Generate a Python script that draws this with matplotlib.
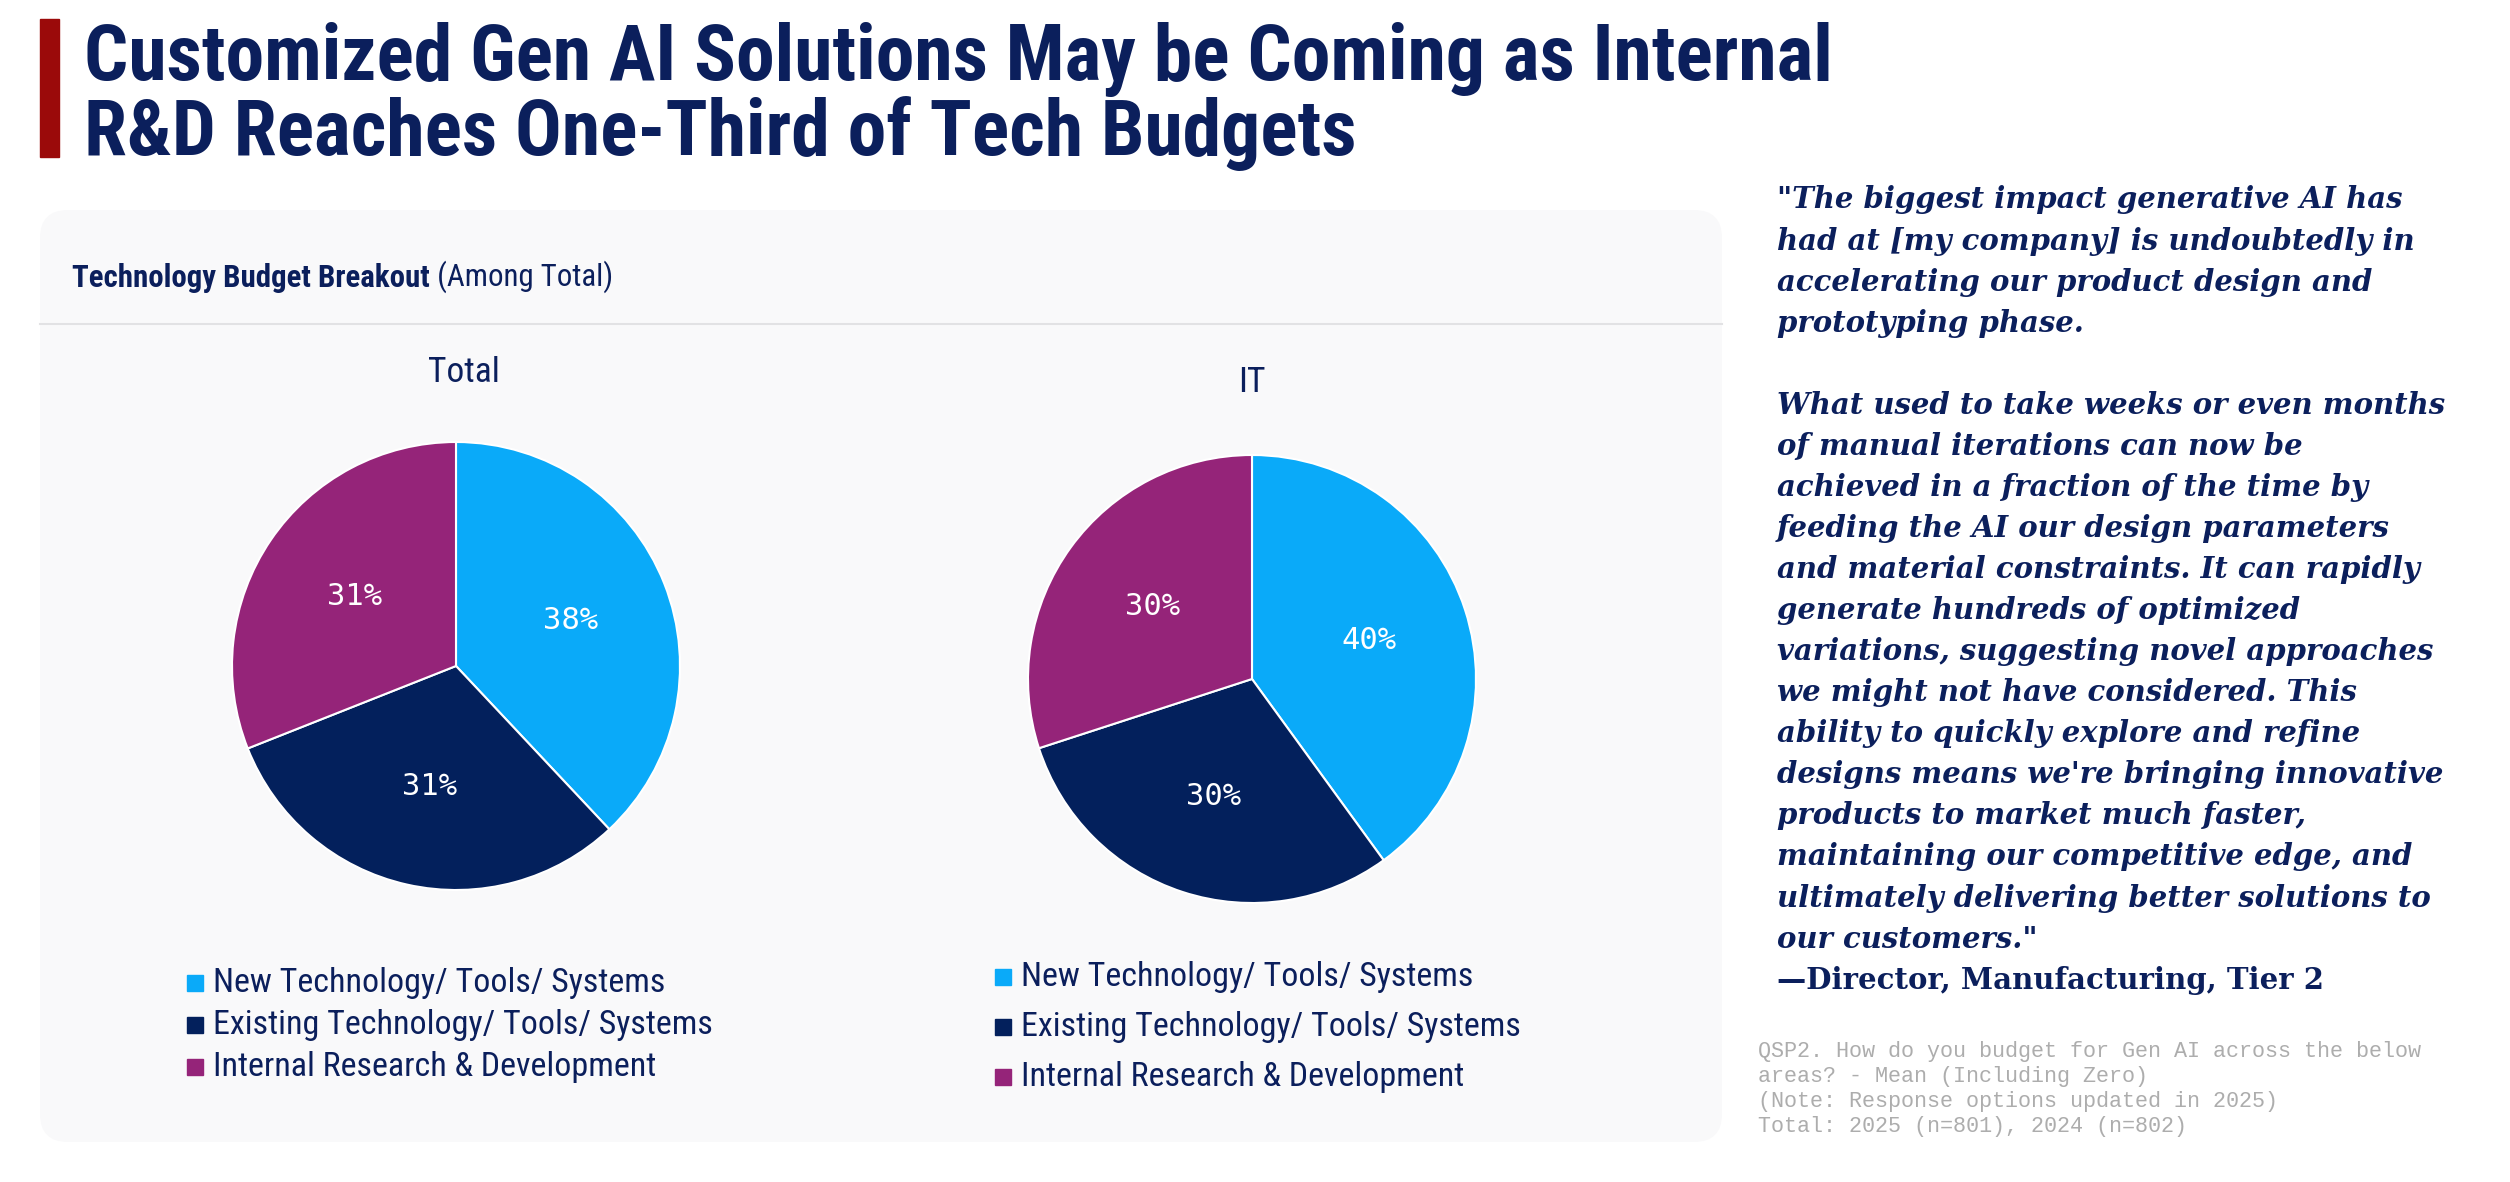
import os
import matplotlib
matplotlib.use('Agg')
import matplotlib.pyplot as plt
from matplotlib import font_manager as fm
from matplotlib.patches import FancyBboxPatch, Rectangle

W, H = 2510, 1182
DPI = 100

# data
categories = ['New Technology/ Tools/ Systems',
              'Existing Technology/ Tools/ Systems',
              'Internal Research & Development']
total_values = [38, 31, 31]
it_values = [40, 30, 30]
slice_colors = ['#0aaaf9', '#03205c', '#952479']

title_lines = ['Customized Gen AI Solutions May be Coming as Internal',
               'R&D Reaches One-Third of Tech Budgets']

quote_lines = ['"The biggest impact generative AI has',
               'had at [my company] is undoubtedly in',
               'accelerating our product design and',
               'prototyping phase.',
               '',
               'What used to take weeks or even months',
               'of manual iterations can now be',
               'achieved in a fraction of the time by',
               'feeding the AI our design parameters',
               'and material constraints. It can rapidly',
               'generate hundreds of optimized',
               'variations, suggesting novel approaches',
               'we might not have considered. This',
               'ability to quickly explore and refine',
               "designs means we're bringing innovative",
               'products to market much faster,',
               'maintaining our competitive edge, and',
               'ultimately delivering better solutions to',
               'our customers."']
quote_source = '\u2014Director, Manufacturing, Tier 2'

note_lines = ['QSP2. How do you budget for Gen AI across the below',
              'areas? - Mean (Including Zero)',
              '(Note: Response options updated in 2025)',
              'Total: 2025 (n=801), 2024 (n=802)']

NAVY = '#0b1f5c'


# look for a narrow sans font (Arial Narrow look), fall back to Liberation Sans
def pick_narrow(bold):
    rank = ['liberation', 'arial', 'roboto', 'dejavu', 'noto', 'open', 'lato']
    cands = []
    for f in fm.fontManager.ttflist:
        base = os.path.basename(f.fname).lower()
        nm = f.name.lower()
        if f.style != 'normal' or 'mono' in nm or 'serif' in nm or 'italic' in base:
            continue
        narrowish = ('narrow' in nm or 'condensed' in nm or 'narrow' in base
                     or 'condensed' in base or 'condensed' in str(f.stretch))
        if not narrowish:
            continue
        w = f.weight if isinstance(f.weight, int) else fm.weight_dict.get(f.weight, 400)
        wscore = abs(w - (700 if bold else 400))
        extra = 1 if ('semi' in base or 'extra' in base or 'ultra' in base) else 0
        r = next((i for i, k in enumerate(rank) if k in nm), len(rank))
        cands.append((wscore, extra, r, f.fname))
    if cands:
        return fm.FontProperties(fname=min(cands)[3])
    return fm.FontProperties(family='Liberation Sans',
                             weight='bold' if bold else 'normal')


fp_bold = pick_narrow(True)
fp_reg = pick_narrow(False)

fig = plt.figure(figsize=(W / DPI, H / DPI), dpi=DPI)
fig.patch.set_facecolor('white')
renderer = fig.canvas.get_renderer()


def fit(t, target):
    # scale the font so the text gets the width it has in the reference
    w = t.get_window_extent(renderer).width
    t.set_fontsize(t.get_fontsize() * target / w)
    return t.get_fontsize()


# background axes in pixel coords
bg = fig.add_axes([0, 0, 1, 1])
bg.set_xlim(0, W)
bg.set_ylim(H, 0)
bg.axis('off')

# title
bg.add_patch(Rectangle((40, 19), 19, 138, color='#9b0a0a'))
t1 = bg.text(84, 80, title_lines[0], fontproperties=fp_bold, fontsize=60,
             color=NAVY, va='baseline')
size = fit(t1, 1751)
bg.text(84, 155, title_lines[1], fontproperties=fp_bold, fontsize=size,
        color=NAVY, va='baseline')

# panel
bg.add_patch(FancyBboxPatch((40, 210), 1682, 932,
                            boxstyle='round,pad=0,rounding_size=28',
                            fc='#f9f9fa', ec='none'))
bg.plot([40, 1722], [324, 324], color='#e2e2e4', lw=1.5)

# header: bold part + regular part, sized so both together span the reference width
hdr = bg.text(72, 287, 'Technology Budget Breakout', fontproperties=fp_bold,
              fontsize=19, color=NAVY, va='baseline')
sub = bg.annotate(' (Among Total)', xy=(1, 0), xycoords=hdr, fontproperties=fp_reg,
                  fontsize=19, color=NAVY, va='bottom')
full_w = (hdr.get_window_extent(renderer).width
          + sub.get_window_extent(renderer).width)
hsize = 19 * 541 / full_w
hdr.set_fontsize(hsize)
sub.set_fontsize(hsize)

probe = bg.text(0, -100, categories[0], fontproperties=fp_reg, fontsize=25)
leg_size = fit(probe, 453)
probe.remove()
probe = bg.text(0, -100, 'Total', fontproperties=fp_reg, fontsize=29)
name_size = fit(probe, 72)
probe.remove()


def draw_pie(cx, cy, r, values, name, name_x, name_y, leg_x, leg_y, leg_gap):
    ax = fig.add_axes([(cx - r) / W, 1 - (cy + r) / H, 2 * r / W, 2 * r / H])
    ax.pie(values, colors=slice_colors, startangle=90, counterclock=False,
           autopct=lambda p: f'{p:.0f}%', pctdistance=0.55,
           wedgeprops=dict(edgecolor='white', linewidth=1.5),
           textprops=dict(color='white', fontsize=22, family='DejaVu Sans Mono'))
    ax.set_xlim(-1, 1)
    ax.set_ylim(-1, 1)
    ax.axis('off')
    bg.text(name_x, name_y, name, fontproperties=fp_reg, fontsize=name_size,
            color=NAVY, ha='center', va='center')
    for i, (cat, col) in enumerate(zip(categories, slice_colors)):
        y = leg_y + i * leg_gap
        bg.add_patch(Rectangle((leg_x, y - 8), 16, 16, color=col))
        bg.text(leg_x + 26, y, cat, fontproperties=fp_reg, fontsize=leg_size,
                color=NAVY, va='center')


draw_pie(456, 666, 224, total_values, 'Total', 464, 373, 187, 983, 42)
draw_pie(1252, 679, 224, it_values, 'IT', 1252, 383, 995, 977, 50)

# quote
for i, line in enumerate(quote_lines):
    bg.text(1777, 200 + i * 41.06, line, fontsize=21, family='DejaVu Serif',
            fontweight='bold', style='italic', color=NAVY, va='center')
bg.text(1777, 200 + 19 * 41.06, quote_source, fontsize=21, family='DejaVu Serif',
        fontweight='bold', color=NAVY, va='center')

# footnote
for i, line in enumerate(note_lines):
    bg.text(1758, 1051 + i * 25.3, line, fontsize=15.7, family='Liberation Mono',
            color='#adadad', va='center')

fig.savefig('out.png', dpi=DPI, facecolor='white')
